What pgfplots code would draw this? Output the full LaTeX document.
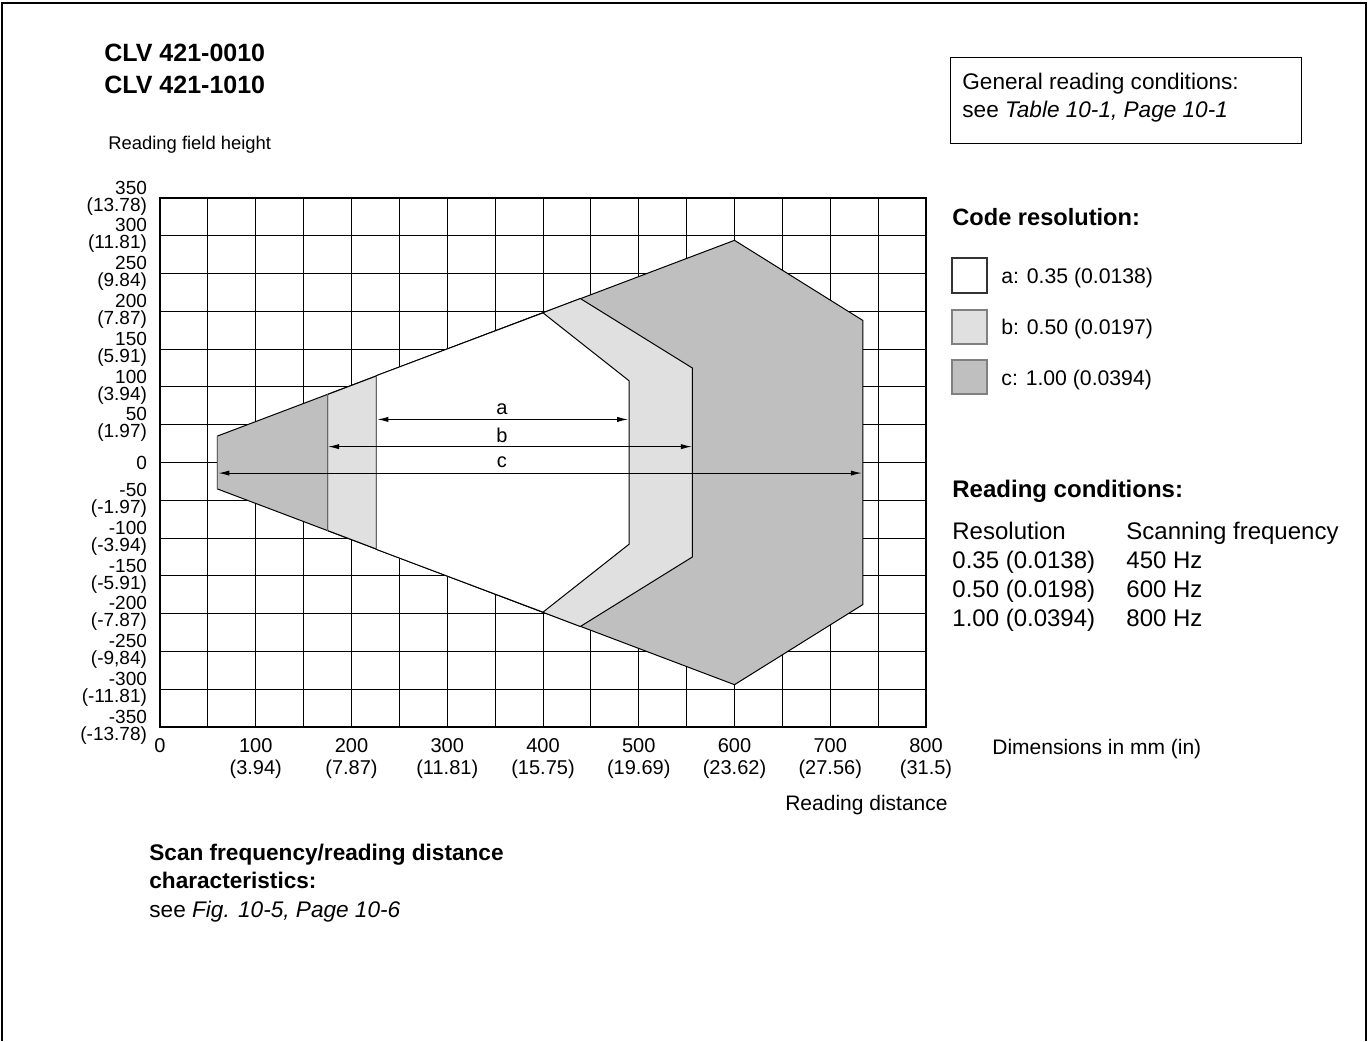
\documentclass[border=0pt]{standalone}
\usepackage{fontspec}
\setmainfont{Liberation Sans}
\usepackage{pgfplots}
\pgfplotsset{compat=1.18}
\usetikzlibrary{arrows.meta}
\definecolor{cgray}{HTML}{BFBFBF}
\definecolor{bgray}{HTML}{E0E0E0}
\begin{document}
\begin{tikzpicture}[x=0.5pt,y=0.5pt]
\path[use as bounding box] (0,0) rectangle (1369,1041);
\draw[line width=1.2pt] (2,0) -- (2,1038) -- (1366,1038) -- (1366,0);
\begin{axis}[at={(80pt,157pt)}, anchor=south west, scale only axis,
  width=383pt, height=264.5pt,
  xmin=0, xmax=800, ymin=-350, ymax=350,
  xtick={0,100,...,800}, minor xtick={50,150,...,750},
  ytick={-350,-300,...,350},
  grid=both, grid style={black, line width=0.5pt},
  minor grid style={black, line width=0.5pt},
  major tick length=0pt, minor tick length=0pt,
  axis line style={line width=1.2pt},
  xticklabels={0,{100\\(3.94)},{200\\(7.87)},{300\\(11.81)},{400\\(15.75)},{500\\(19.69)},{600\\(23.62)},{700\\(27.56)},{800\\(31.5)}},
  yticklabels={{-350\\(-13.78)},{-300\\(-11.81)},{-250\\(-9,84)},{-200\\(-7.87)},{-150\\(-5.91)},{-100\\(-3.94)},{-50\\(-1.97)},0,{50\\(1.97)},{100\\(3.94)},{150\\(5.91)},{200\\(7.87)},{250\\(9.84)},{300\\(11.81)},{350\\(13.78)}},
  xticklabel style={align=center, font=\fontsize{10}{11}\selectfont, yshift=-2pt},
  yticklabel style={align=right, font=\fontsize{9.5}{8.5}\selectfont, xshift=-3pt},
]
\addplot[fill=cgray, draw=black, line width=0.5pt] coordinates {(60,35) (600,294) (734,188) (734,-188) (600,-294) (60,-35)} -- cycle;
\addplot[fill=bgray, draw=black, line width=0.5pt] coordinates {(175,90) (439,217) (556,125) (556,-125) (439,-217) (175,-90)} -- cycle;
\addplot[fill=white, draw=black, line width=0.5pt] coordinates {(226,115) (400,198) (490,108) (490,-108) (400,-198) (226,-115)} -- cycle;
\addplot[black!60, line width=0.7pt] coordinates {(60,35) (60,-35)};
\addplot[black!60, line width=0.7pt] coordinates {(175,90) (175,-90)};
\addplot[black!60, line width=0.7pt] coordinates {(226,115) (226,-115)};
\addplot[line width=0.5pt, {Latex[length=5.5pt,width=2.6pt]}-{Latex[length=5.5pt,width=2.6pt]}] coordinates {(227,57) (489,57)};
\addplot[line width=0.5pt, {Latex[length=5.5pt,width=2.6pt]}-{Latex[length=5.5pt,width=2.6pt]}] coordinates {(175.5,21) (555.5,21)};
\addplot[line width=0.5pt, {Latex[length=5.5pt,width=2.6pt]}-{Latex[length=5.5pt,width=2.6pt]}] coordinates {(61,-14) (733,-14)};
\node[font=\fontsize{10}{12}\selectfont] at (axis cs:357,71) {a};
\node[font=\fontsize{10}{12}\selectfont] at (axis cs:357,36) {b};
\node[font=\fontsize{10}{12}\selectfont] at (axis cs:357,1) {c};
\end{axis}
% titles
\node[anchor=base west, inner sep=0pt, font=\fontsize{12.5}{14}\selectfont\bfseries] at (104,979) {CLV 421-0010};
\node[anchor=base west, inner sep=0pt, font=\fontsize{12.5}{14}\selectfont\bfseries] at (104,947) {CLV 421-1010};
\node[anchor=base west, inner sep=0pt, font=\fontsize{9.2}{11}\selectfont] at (108,891) {Reading field height};
% general box
\draw[line width=0.5pt] (950,983) rectangle (1301,897);
\node[anchor=base west, inner sep=0pt, font=\fontsize{11.3}{13}\selectfont] at (962,951) {General reading conditions:};
\node[anchor=base west, inner sep=0pt, font=\fontsize{11.3}{13}\selectfont] at (962,923) {see \textit{Table 10-1, Page 10-1}};
% code resolution legend
\node[anchor=base west, inner sep=0pt, font=\fontsize{11.8}{14}\selectfont\bfseries] at (952,815) {Code resolution:};
\draw[fill=white, draw=black!80, line width=0.6pt] (952,783) rectangle (987,748);
\draw[fill=bgray, draw=black!50, line width=0.6pt] (952,731) rectangle (987,697);
\draw[fill=cgray, draw=black!50, line width=0.6pt] (952,681) rectangle (987,647);
\node[anchor=base west, inner sep=0pt, font=\fontsize{10.6}{13}\selectfont] at (1001,758) {a: 0.35 (0.0138)};
\node[anchor=base west, inner sep=0pt, font=\fontsize{10.6}{13}\selectfont] at (1001,707) {b: 0.50 (0.0197)};
\node[anchor=base west, inner sep=0pt, font=\fontsize{10.6}{13}\selectfont] at (1001,656) {c: 1.00 (0.0394)};
% reading conditions
\node[anchor=base west, inner sep=0pt, font=\fontsize{12}{14}\selectfont\bfseries] at (952,544) {Reading conditions:};
\node[anchor=base west, inner sep=0pt, font=\fontsize{12}{14}\selectfont] at (952,502) {Resolution};
\node[anchor=base west, inner sep=0pt, font=\fontsize{12}{14}\selectfont] at (1126,502) {Scanning frequency};
\node[anchor=base west, inner sep=0pt, font=\fontsize{12}{14}\selectfont] at (952,473) {0.35 (0.0138)};
\node[anchor=base west, inner sep=0pt, font=\fontsize{12}{14}\selectfont] at (1126,473) {450 Hz};
\node[anchor=base west, inner sep=0pt, font=\fontsize{12}{14}\selectfont] at (952,444) {0.50 (0.0198)};
\node[anchor=base west, inner sep=0pt, font=\fontsize{12}{14}\selectfont] at (1126,444) {600 Hz};
\node[anchor=base west, inner sep=0pt, font=\fontsize{12}{14}\selectfont] at (952,415) {1.00 (0.0394)};
\node[anchor=base west, inner sep=0pt, font=\fontsize{12}{14}\selectfont] at (1126,415) {800 Hz};
% dimensions and axis label
\node[anchor=base west, inner sep=0pt, font=\fontsize{10.5}{13}\selectfont] at (992,287) {Dimensions in mm (in)};
\node[anchor=base east, inner sep=0pt, font=\fontsize{10.5}{13}\selectfont] at (948,231) {Reading distance};
% bottom note
\node[anchor=base west, inner sep=0pt, font=\fontsize{11.3}{13}\selectfont\bfseries] at (149,181) {Scan frequency/reading distance};
\node[anchor=base west, inner sep=0pt, font=\fontsize{11.3}{13}\selectfont\bfseries] at (149,153) {characteristics:};
\node[anchor=base west, inner sep=0pt, font=\fontsize{11.3}{13}\selectfont] at (149,124) {see \textit{Fig. 10-5, Page 10-6}};
\end{tikzpicture}
\end{document}
